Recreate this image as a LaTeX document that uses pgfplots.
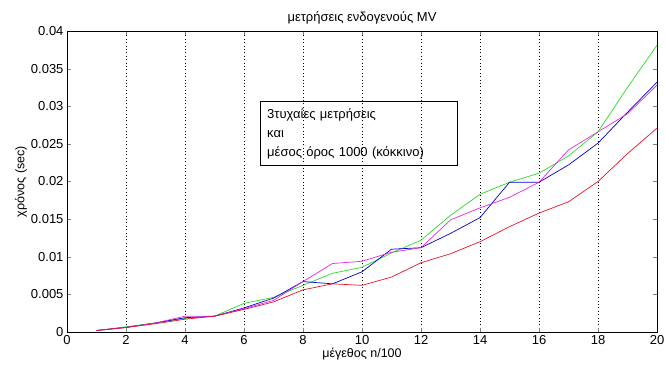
\documentclass[border=0pt]{standalone}
\usepackage{pgfplots}
\pgfplotsset{compat=1.18}
\usepackage{fontspec}
\setmainfont{Liberation Sans}
\begin{document}
\begin{tikzpicture}
\begin{axis}[
  scale only axis,
  width=590pt, height=301pt,
  xmin=0, xmax=20, ymin=0, ymax=0.04,
  xtick={0,2,...,20},
  ytick={0,0.005,...,0.04},
  /pgf/number format/assume math mode=true,
  yticklabel style={/pgf/number format/fixed, /pgf/number format/precision=3},
  scaled y ticks=false,
  tick label style={font=\fontsize{13}{15}\selectfont},
  label style={font=\fontsize{12.5}{14}\selectfont},
  title style={font=\fontsize{13}{15}\selectfont, yshift=-3pt},
  title={μετρήσεις ενδογενούς MV},
  xlabel={μέγεθος n/100},
  ylabel={χρόνος (sec)},
  xlabel style={yshift=4pt},
  ylabel style={yshift=-3pt},
  xmajorgrids,
  grid style={black, line width=0.45pt, dash pattern=on 0.8pt off 2.6pt},
  tick align=inside,
  tick pos=both,
  major tick length=4pt,
  axis line style={black, line width=0.6pt},
  every axis plot/.append style={line width=0.7pt},
]
\addplot[color={rgb,255:red,40;green,220;blue,40}] coordinates {
(1,0.0002) (2,0.0007) (3,0.0012) (4,0.0018) (5,0.0021) (6,0.0038) (7,0.0046) (8,0.0062) (9,0.0078) (10,0.0086)
(11,0.0105) (12,0.0122) (13,0.0155) (14,0.0183) (15,0.0199) (16,0.0211) (17,0.0234) (18,0.0266) (19,0.0325) (20,0.0381)};
\addplot[color={rgb,255:red,0;green,0;blue,210}] coordinates {
(1,0.0002) (2,0.0006) (3,0.0012) (4,0.0019) (5,0.0021) (6,0.0032) (7,0.0045) (8,0.0067) (9,0.0064) (10,0.0080)
(11,0.0110) (12,0.0112) (13,0.0131) (14,0.0152) (15,0.0199) (16,0.0199) (17,0.0222) (18,0.0251) (19,0.0292) (20,0.0332)};
\addplot[color={rgb,255:red,230;green,40;blue,230}] coordinates {
(1,0.0002) (2,0.0006) (3,0.0012) (4,0.0021) (5,0.0021) (6,0.0031) (7,0.0042) (8,0.0067) (9,0.0091) (10,0.0094)
(11,0.0106) (12,0.0112) (13,0.0149) (14,0.0165) (15,0.0179) (16,0.0199) (17,0.0242) (18,0.0266) (19,0.0290) (20,0.0328)};
\addplot[color={rgb,255:red,230;green,20;blue,40}] coordinates {
(1,0.0002) (2,0.0006) (3,0.0011) (4,0.0017) (5,0.0021) (6,0.0030) (7,0.0040) (8,0.0056) (9,0.0064) (10,0.0062)
(11,0.0073) (12,0.0092) (13,0.0104) (14,0.0120) (15,0.0140) (16,0.0158) (17,0.0173) (18,0.0200) (19,0.0237) (20,0.0271)};
\node[draw=black, line width=0.6pt, anchor=north west, align=left, inner xsep=7pt, inner ysep=7pt,
  font=\fontsize{13}{19}\selectfont, text width=183pt] at (axis cs:6.54,0.0307)
  {3τυχαίες μετρήσεις\\και\\μέσος όρος 1000 (κόκκινο)};
\end{axis}
\pgfresetboundingbox
\path (current axis.south west) ++(-67pt,-38pt) coordinate (bl);
\path (current axis.north east) ++(8pt,31pt) coordinate (tr);
\path (bl) rectangle (tr);
\end{tikzpicture}
\end{document}
